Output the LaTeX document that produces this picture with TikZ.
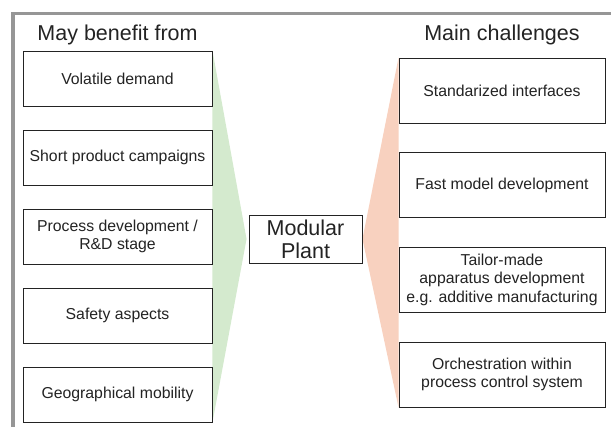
\documentclass[tikz,border=0pt]{standalone}
\usepackage{fontspec}
\setmainfont{Liberation Sans}
\usetikzlibrary{positioning,backgrounds}

\definecolor{benefitgreen}{RGB}{212,234,206}
\definecolor{challengesalmon}{RGB}{248,209,191}
\definecolor{framegray}{RGB}{150,150,150}
\definecolor{textdark}{RGB}{35,35,35}

\tikzset{
  benefit box/.style={rectangle, draw=textdark, fill=white, line width=0.9pt, inner sep=0pt, minimum width=189pt, minimum height=55pt, align=center, text=textdark, font=\fontsize{15.8}{18.3}\selectfont},
  challenge box/.style={benefit box, minimum width=206pt, minimum height=65pt},
  plant box/.style={benefit box, minimum width=113pt, minimum height=48pt, font=\fontsize{21.5}{23.3}\selectfont},
  column title/.style={anchor=base, text=textdark, font=\fontsize{21.5}{24}\selectfont},
  benefit fan/.style={fill=benefitgreen},
  challenge fan/.style={fill=challengesalmon},
  frame line/.style={draw=framegray, line width=3.2pt},
}

\begin{document}
\begin{tikzpicture}[x=1pt, y=-1pt, node distance=79pt]
    \useasboundingbox (0,0) rectangle (611,427);
    \draw[frame line] (13,440) -- (13,13.5) -- (620,13.5);
    % benefits
    \node (b1) [benefit box] at (117.5,78.5) {Volatile demand};
    \node (b2) [benefit box, below of=b1] {Short product campaigns};
    \node (b3) [benefit box, below of=b2] {Process development /\\R\&D stage};
    \node (b4) [benefit box, below of=b3] {Safety aspects};
    \node (b5) [benefit box, below of=b4] {Geographical mobility};
    \node (tb) [column title] at (117.5,41) {May benefit from};
    % plant
    \node (plant) [plant box] at (305.5,239) {Modular\\Plant};
    % challenges
    \node (c1) [challenge box] at (502,90.5) {Standarized interfaces};
    \node (c2) [challenge box, below of=c1, node distance=94.7pt] {Fast model development};
    \node (c3) [challenge box, below of=c2, node distance=94.7pt] {Tailor-made\\apparatus development\\e.g. additive manufacturing};
    \node (c4) [challenge box, below of=c3, node distance=94.7pt] {Orchestration within\\process control system};
    \node (tc) [column title] at (502,41) {Main challenges};
    \begin{scope}[on background layer]
      \fill[benefit fan] (b1.north east) -- ([xshift=-2pt]plant.west) -- (b5.south east) -- cycle;
      \fill[challenge fan] (c1.north west) -- (plant.east) -- (c4.south west) -- cycle;
    \end{scope}
  \end{tikzpicture}
\end{document}
